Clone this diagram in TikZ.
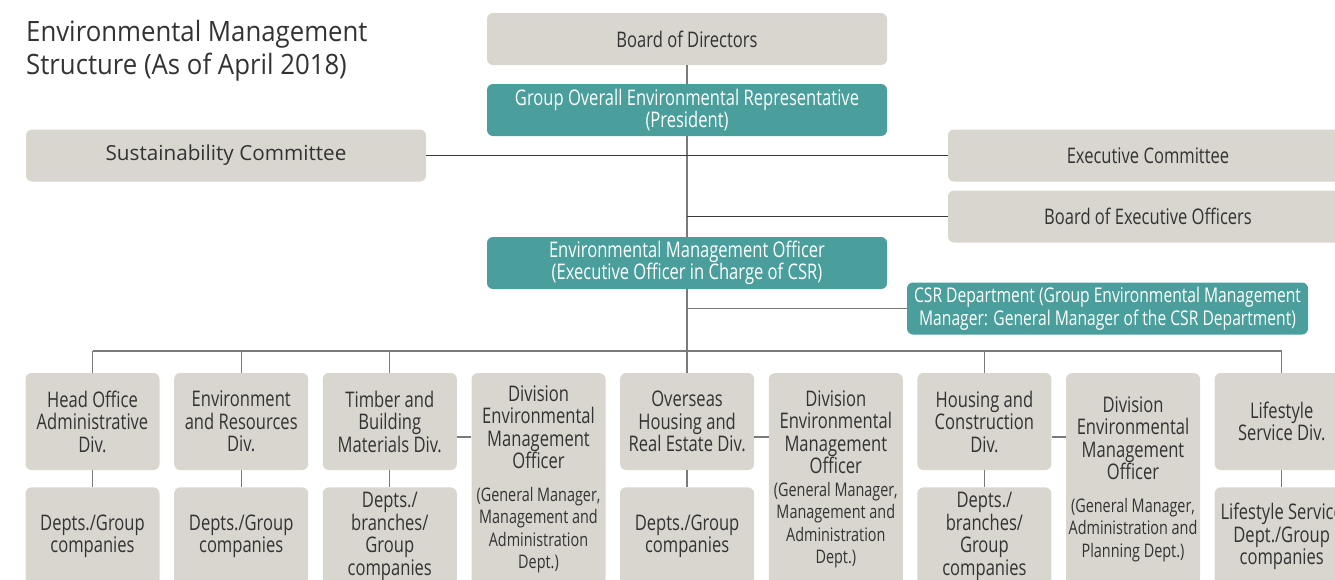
\documentclass[tikz,border=0pt]{standalone}
\usepackage{fontspec}
\setmainfont{Open Sans}[FakeStretch=0.77]
\newfontfamily\widefont{Open Sans}
\newfontfamily\titlefont{Open Sans}[FakeStretch=0.92]
\usetikzlibrary{positioning}
\definecolor{boxgrey}{HTML}{D9D6CF}
\definecolor{csrteal}{HTML}{4A9E9B}
\definecolor{inkgrey}{HTML}{333333}
\definecolor{linkgrey}{HTML}{7A7A7A}
\definecolor{linkdark}{HTML}{3A3A3A}
\newcommand{\boxfont}{\fontsize{21.5}{22.5}\selectfont}
\newcommand{\notefont}{\fontsize{18.7}{22}\selectfont}

\tikzset{
  greybox/.style={fill=boxgrey, rounded corners=6pt, inner sep=0pt,
    minimum width=400pt, minimum height=52pt, align=center,
    text=inkgrey, font=\boxfont},
  tealbox/.style={greybox, fill=csrteal, text=white},
  divbox/.style={greybox, minimum width=134pt, minimum height=97pt},
  subbox/.style={greybox, minimum width=134pt, minimum height=98pt},
  officerbox/.style={greybox, minimum width=134pt, minimum height=212pt},
  vlink/.style={draw=linkgrey, line width=1.3pt},
  hlink/.style={draw=linkdark, line width=1pt},
}

\begin{document}
\begin{tikzpicture}[x=1pt, y=-1pt]
  \useasboundingbox (0,0) rectangle (1335,579);
  \clip (0,0) rectangle (1335,579);

  \node[anchor=north west, inner sep=0pt, align=left, text=inkgrey,
    font=\titlefont\fontsize{28}{33}\selectfont] (title) at (26,20)
    {Environmental Management\\Structure (As of April 2018)};

  % top of the structure
  \node[greybox] (board) at (687,39) {Board of Directors};
  \node[tealbox] (president) at (687,110)
    {Group Overall Environmental Representative\\(President)};
  \node[greybox, font=\widefont\fontsize{20.7}{22}\selectfont] (sustain) at (226,155.5)
    {Sustainability Committee};
  \node[greybox] (execcom) at (1148,155.5) {Executive Committee};
  \node[greybox] (officers) at (1148,216.5) {Board of Executive Officers};
  \node[tealbox] (envofficer) at (687,263)
    {Environmental Management Officer\\(Executive Officer in Charge of CSR)};
  \node[tealbox, minimum width=401pt, font=\fontsize{20.3}{23}\selectfont] (csrdept) at (1107.5,308.5)
    {CSR Department (Group Environmental Management\\Manager: General Manager of the CSR Department)};
  \coordinate (hub) at (687,351);

  % divisions
  \node[divbox] (headoffice) at (92.5,421.5) {Head Office\\Administrative\\Div.};
  \node[divbox] (envres) at (241.2,421.5) {Environment\\and Resources\\Div.};
  \node[divbox] (timber) at (389.8,421.5) {Timber and\\Building\\Materials Div.};
  \node[officerbox, anchor=north] (timberofficer) at (538.5,373)
    {Division\\Environmental\\Management\\Officer\\[10pt]
     \notefont(General Manager,\\\notefont Management and\\\notefont Administration\\\notefont Dept.)};
  \node[divbox] (overseas) at (687.1,421.5) {Overseas\\Housing and\\Real Estate Div.};
  \node[officerbox, anchor=north] (overseasofficer) at (835.8,373)
    {Division\\Environmental\\Management\\Officer\\
     \notefont(General Manager,\\\notefont Management and\\\notefont Administration\\\notefont Dept.)};
  \node[divbox] (housing) at (984.4,421.5) {Housing and\\Construction\\Div.};
  \node[officerbox, anchor=north] (housingofficer) at (1133,373)
    {Division\\Environmental\\Management\\Officer\\[10pt]
     \notefont(General Manager,\\\notefont Administration and\\\notefont Planning Dept.)};
  \node[divbox] (lifestyle) at (1281.7,421.5) {Lifestyle\\Service Div.};

  % departments and group companies
  \node[subbox, below=17pt of headoffice] (headofficesub) {Depts./Group\\companies};
  \node[subbox, below=17pt of envres] (envressub) {Depts./Group\\companies};
  \node[subbox, below=17pt of timber] (timbersub) {Depts./\\branches/\\Group\\companies};
  \node[subbox, below=17pt of overseas] (overseassub) {Depts./Group\\companies};
  \node[subbox, below=17pt of housing] (housingsub) {Depts./\\branches/\\Group\\companies};
  \node[subbox, below=17pt of lifestyle] (lifestylesub) {Lifestyle Service\\Dept./Group\\companies};

  % connectors
  \draw[vlink] (board) -- (president);
  \draw[vlink] (president) -- (envofficer);
  \draw[vlink] (envofficer) -- (hub);
  \draw[hlink] (sustain) -- (execcom);
  \draw[hlink] (officers.west -| hub) -- (officers.west);
  \draw[vlink] (csrdept.west -| hub) -- (csrdept.west);
  \draw[vlink] (hub -| headoffice) -- (hub -| lifestyle);
  \foreach \div in {headoffice,envres,timber,overseas,housing,lifestyle} {
    \draw[vlink] (hub -| \div) -- (\div.north);
    \draw[vlink] (\div) -- (\div sub);
  }
  \draw[vlink] ([yshift=-15.5pt]timber.east) -- ([yshift=-15.5pt]timber.east -| timberofficer.west);
  \draw[vlink] ([yshift=-15.5pt]overseas.east) -- ([yshift=-15.5pt]overseas.east -| overseasofficer.west);
  \draw[vlink] ([yshift=-15.5pt]housing.east) -- ([yshift=-15.5pt]housing.east -| housingofficer.west);
\end{tikzpicture}
\end{document}
